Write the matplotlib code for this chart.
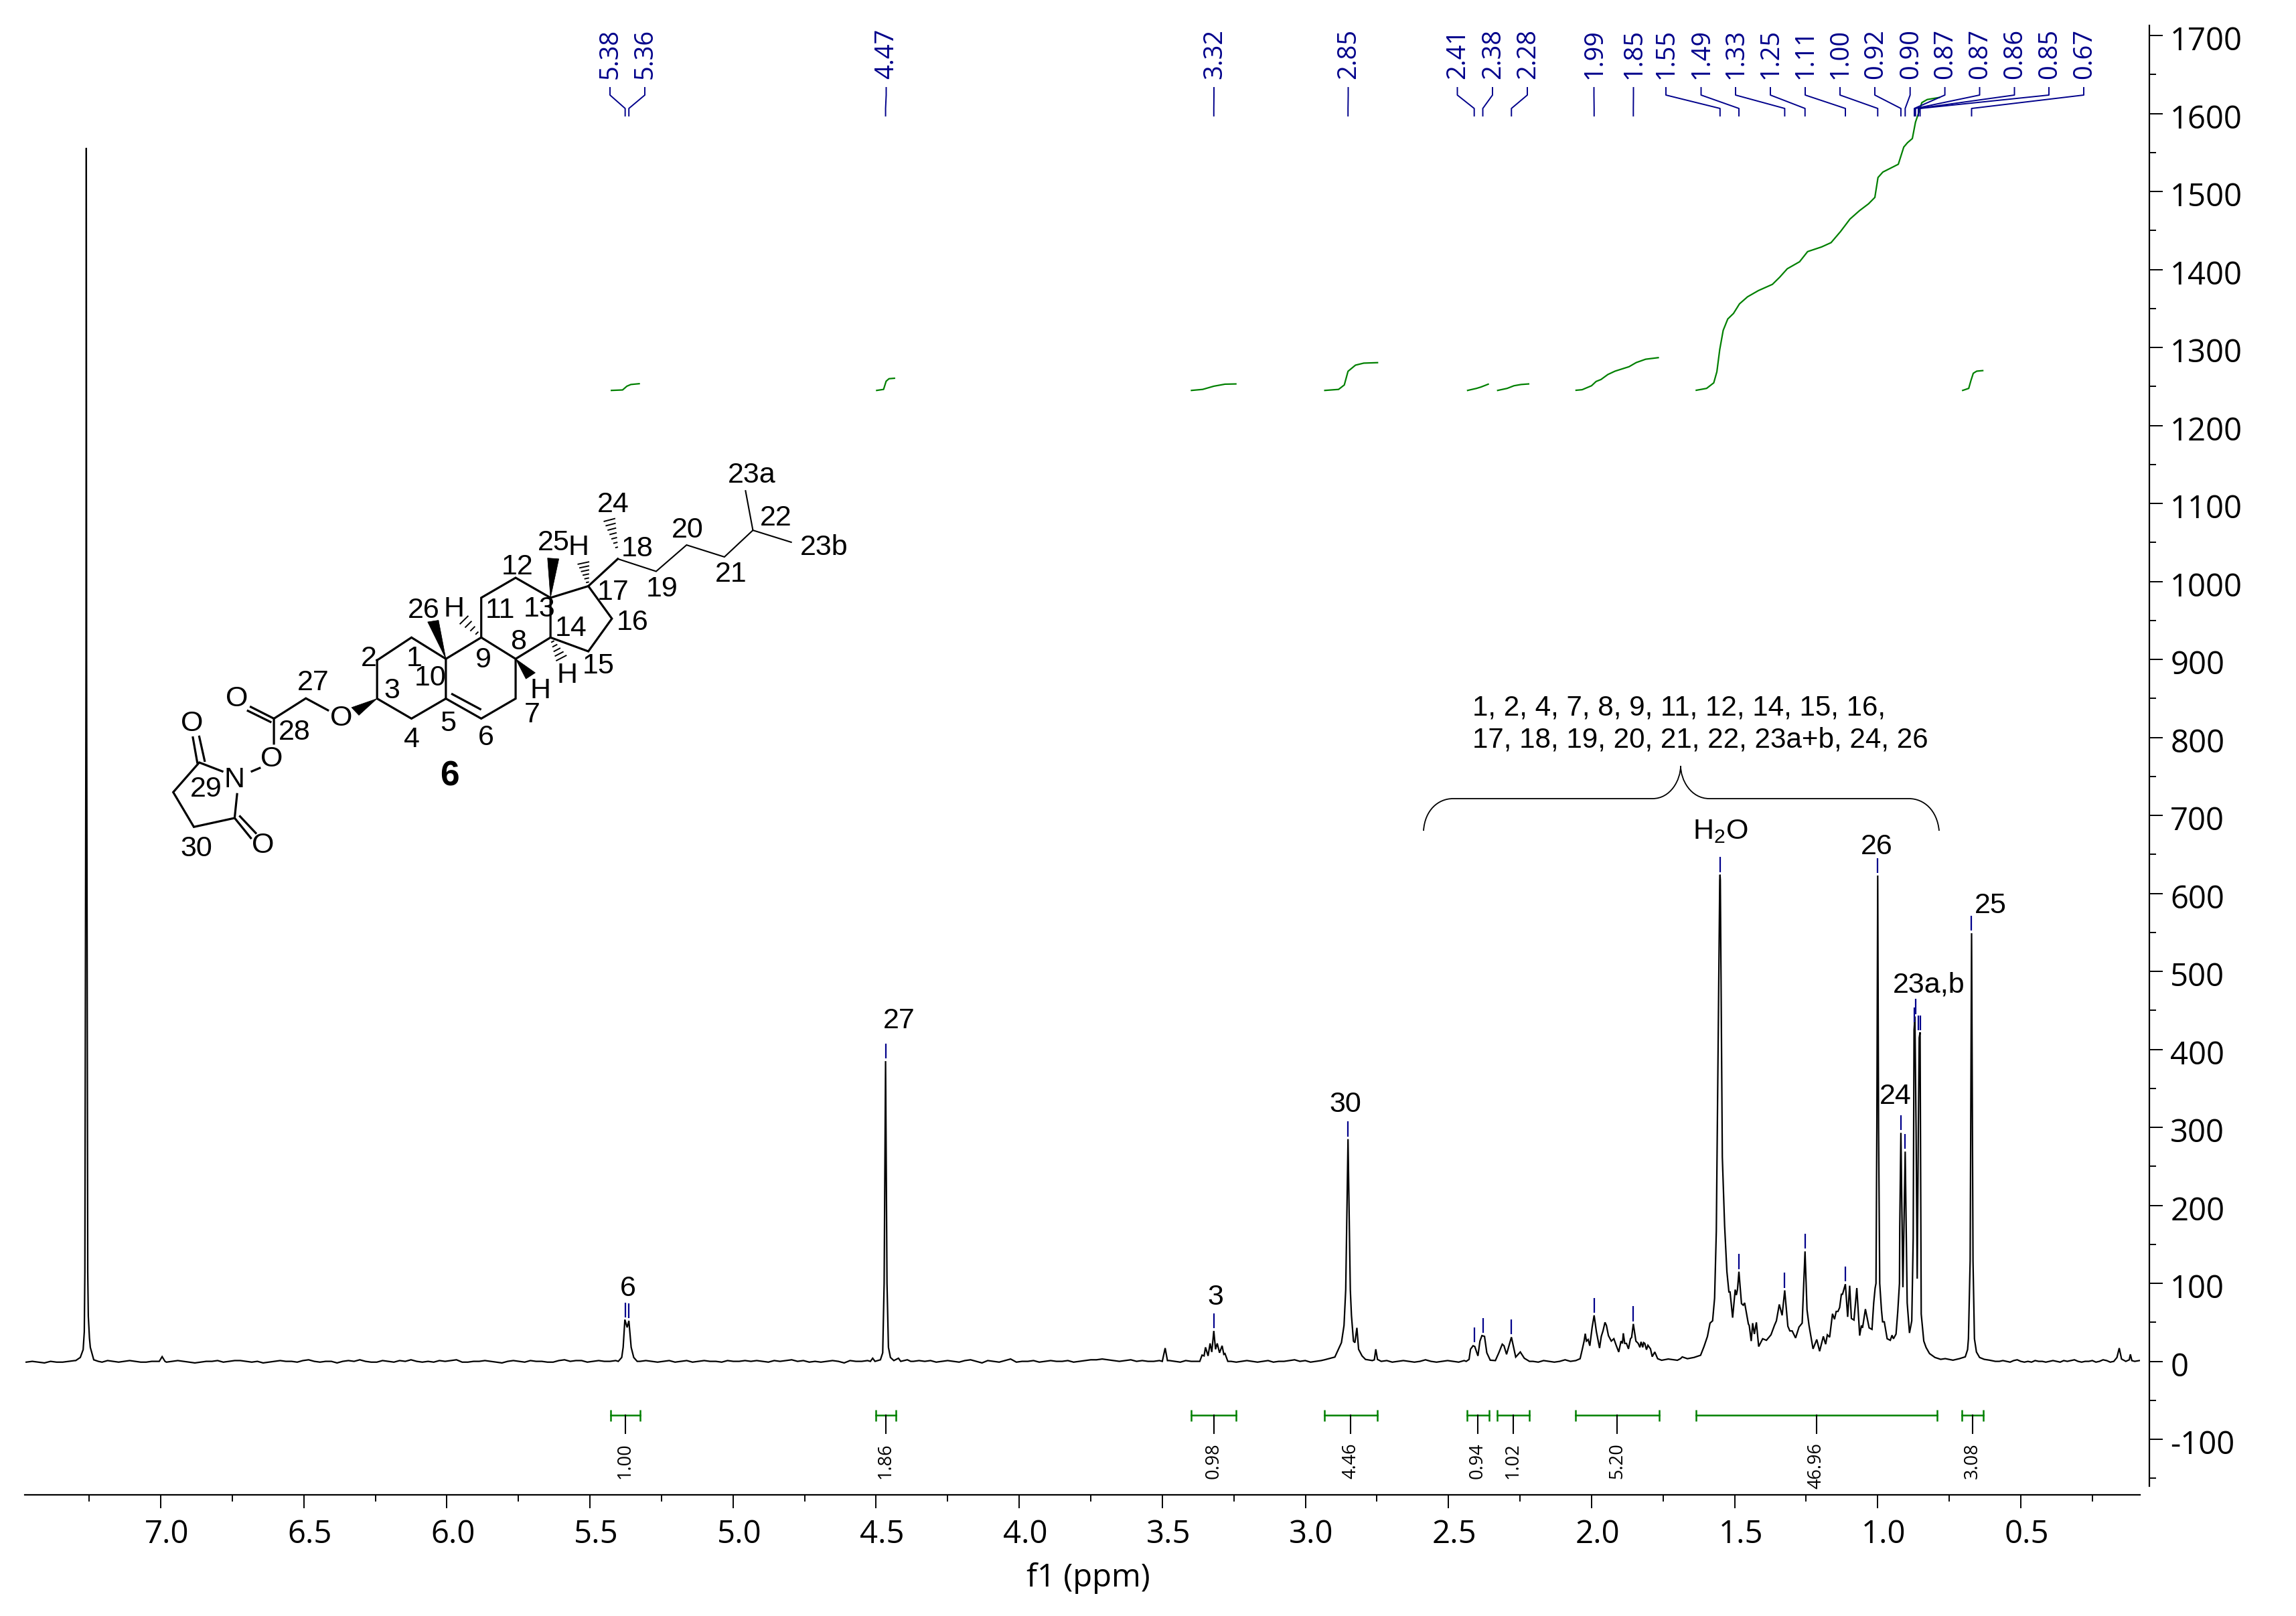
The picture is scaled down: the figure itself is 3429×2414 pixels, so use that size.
#!/usr/bin/env python
import numpy as np
import matplotlib
matplotlib.use("Agg")
import matplotlib.pyplot as plt
from matplotlib.patches import PathPatch, Polygon
from matplotlib.path import Path
from matplotlib.ticker import MultipleLocator, FormatStrFormatter
from matplotlib.transforms import ScaledTranslation

plt.rcParams['font.family'] = ['Open Sans', 'DejaVu Sans']
plt.rcParams['axes.unicode_minus'] = False
plt.rcParams['mathtext.default'] = 'regular'

W, H = 3430, 2414
NAVY = '#00008b'
GREEN = '#008000'
ARIAL = 'Liberation Sans'

# flat stretches of the spectrum: start ppm, stop ppm, intensities
base_1 = (7.47, 7.30, [-1, 0, -1, -2, 0, -1, -1, 0, 1])
base_2 = (7.205, 7.012, [-1, 1, 0, -1, 0, 1, 0, -1, -1, 0, 0])
base_3 = (6.98, 5.41, [-1, 0, 1, 0, -1, -2, -1, 0, 0, 1, -1, 0, 1, 1, 0, -1, 0, -2, -1, 0,
                       1, 0, 0, -1, 1, 2, 0, -1, 0, 0, -2, 0, 1, 0, 2, 0, -1, -1, 1, 0,
                       -1, 1, 0, 2, 0, -1, 0, -1, 1, 0, 1, 2, -1, -1, 0, 0, 1, 0, -1, -2,
                       0, 1, 0, -1, 1, 0, 0, -1, -1, 1, 2, 0, 1, 1, -1, 0, 1, 0, 0, 1])
base_4 = (5.325, 4.53, [0, 1, 0, -1, 0, 1, -1, 0, 1, -1, 0, 1, 0, 0, -1, 1, 0, 0, 1, 0,
                        1, 0, -1, 1, 0, 1, 2, 0, 1, -1, 0, -1, 0, 1, 0, -2, 1, 0, 0, 1])
base_5 = (4.37, 3.51, [0, 1, 0, 1, -1, 0, 1, 0, -1, 1, 2, 0, -2, 1, 0, -1, 1, 3, -1, 0,
                       0, 1, -1, 0, 1, 0, 0, 1, -1, 0, 1, 2, 2, 3, 2, 1, 0, 1, 2, 0,
                       1, 0, 0, 1])
base_6 = (3.475, 3.38, [1, 0, -1, 1, 0, 0])
base_7 = (3.26, 2.945, [0, -1, 0, 1, 0, -1, 0, 1, -1, 0, 0, 1, 2, 0, 1, -1, 0, 1])
base_8 = (2.735, 2.445, [0, 1, -1, 0, 1, 0, -1, 0, 2, 0, -1, 0, 1, 0, -1, 1])
base_9 = (2.205, 2.055, [0, -1, 1, 0, -1, 0, 2, 0, 1])
base_10 = (0.575, 0.175, [0, 1, 0, -1, 1, 2, 0, -1, 0, -1, 1, 0, 0, -1, 0, 1, 0, -1, 1, 0,
                          1, 2, 0, -1, 0, 0, 1, -1, 0, 2, 1, -1, 0])

# peak regions
cdcl3_ppm = [7.297, 7.281, 7.271, 7.267, 7.265, 7.261, 7.260, 7.259, 7.255, 7.253, 7.249,
             7.246, 7.234, 7.218]
cdcl3_int = [1, 5, 15, 38, 115, 900, 1556, 900, 115, 58, 30, 18, 2, 0]
small_ppm = [7.005, 6.995, 6.985]
small_int = [0, 6, 0]
h6_ppm = [5.401, 5.389, 5.384, 5.378, 5.370, 5.364, 5.356, 5.347, 5.335]
h6_int = [0, 5, 18, 53.5, 43.5, 52, 18, 5, 0]
h27_ppm = [4.520, 4.512, 4.504, 4.485, 4.477, 4.472, 4.467, 4.462, 4.457, 4.450, 4.438,
           4.422, 4.414, 4.391, 4.379]
h27_int = [0, 4, 0, 2, 11, 100, 385, 100, 18, 5, 1, 4, 0, 2, 0]
imp_ppm = [3.500, 3.490, 3.482]
imp_int = [0, 17, 1]
h3_ppm = [3.369, 3.361, 3.354, 3.349, 3.340, 3.333, 3.327, 3.320, 3.314, 3.308, 3.300,
          3.291, 3.285, 3.281, 3.271]
h3_int = [0, 8, 7, 18, 7, 23, 12, 39, 15.5, 23, 11, 20, 9, 10, 0]
h30_ppm = [2.933, 2.897, 2.874, 2.865, 2.859, 2.851, 2.843, 2.839, 2.832, 2.827, 2.820,
           2.814, 2.802, 2.790, 2.766, 2.759, 2.754, 2.748]
h30_int = [2, 5.5, 24, 46, 92, 285, 92, 59, 26, 24, 43, 15.5, 7, 2.5, 1, 2, 15.5, 2.5]
m24_ppm = [2.438, 2.428, 2.423, 2.414, 2.408, 2.397, 2.390, 2.383, 2.374, 2.366, 2.354,
           2.336, 2.324, 2.312, 2.306, 2.297, 2.280, 2.265, 2.249, 2.235, 2.217]
m24_int = [0, 2.5, 15.5, 20, 19, 7, 26, 33, 32, 11, 1.5, 1, 11, 22, 20, 9, 31, 5.5, 12, 4, 0]
m19_ppm = [2.040, 2.032, 2.026, 2.022, 2.018, 2.012, 2.006, 1.998, 1.991, 1.983, 1.972,
           1.966, 1.960, 1.953, 1.948, 1.941, 1.931, 1.922, 1.914, 1.905, 1.897, 1.892,
           1.889, 1.884, 1.878, 1.871, 1.864, 1.860, 1.854, 1.845, 1.837, 1.831, 1.827,
           1.821, 1.818, 1.814, 1.808, 1.803, 1.794, 1.788, 1.779, 1.769, 1.755, 1.732,
           1.700]
m19_int = [3.4, 16, 26, 35.5, 26, 28, 20, 43.5, 59, 38, 17, 32, 39, 50, 46, 33, 26, 29,
           20.6, 12, 26, 23, 36, 23, 23, 16, 29, 30.6, 48, 26, 23, 18, 25, 18, 24, 23,
           15, 20.6, 16, 6, 12, 3.4, 1.4, 3, 1.4]
m15_ppm = [1.689, 1.683, 1.665, 1.642, 1.619, 1.607, 1.595, 1.586, 1.577, 1.570, 1.564,
           1.552, 1.551, 1.550, 1.543, 1.535, 1.527, 1.520, 1.516, 1.507, 1.498, 1.494,
           1.490, 1.485, 1.476, 1.470, 1.465, 1.452, 1.449, 1.442, 1.437, 1.431, 1.424,
           1.416, 1.402, 1.389, 1.373, 1.361, 1.354, 1.344, 1.334, 1.325, 1.314, 1.307,
           1.299, 1.287, 1.275, 1.264, 1.254, 1.247, 1.240, 1.226, 1.213, 1.203, 1.190,
           1.182, 1.176, 1.168, 1.158, 1.151, 1.145, 1.139, 1.133, 1.127, 1.123, 1.113,
           1.105, 1.098, 1.092, 1.083, 1.073, 1.063, 1.057, 1.053, 1.043, 1.030, 1.020,
           1.014, 1.009]
m15_int = [3.5, 5.7, 3.4, 5, 7.8, 19, 32, 49, 52, 81, 167, 617, 624, 617, 262, 174, 115,
           89, 89, 56, 92, 85, 92, 115, 74, 72, 75, 48, 46, 26, 49, 35, 50, 19, 29, 27,
           34, 46, 52, 73, 59, 91, 45, 39, 39, 30, 44, 49, 141, 66, 46, 16, 28, 13, 32,
           22, 34, 31, 61, 54, 64, 64, 69, 86, 86, 99, 57, 97, 55, 53, 94, 33, 46, 43,
           67, 43, 41, 75, 94]
m09_ppm = [1.006, 1.003, 1.000, 0.997, 0.993, 0.987, 0.983, 0.977, 0.967, 0.956, 0.950,
           0.945, 0.936, 0.930, 0.924, 0.923, 0.919, 0.912, 0.909, 0.904, 0.900, 0.897,
           0.889, 0.881, 0.876, 0.873, 0.870, 0.866, 0.862, 0.858, 0.855, 0.852, 0.849,
           0.848, 0.839, 0.831, 0.819, 0.800, 0.780, 0.764, 0.737, 0.714, 0.694, 0.686,
           0.683, 0.677, 0.672, 0.667, 0.662, 0.655, 0.644, 0.628, 0.609, 0.589]
m09_int = [100, 300, 623, 300, 100, 66.4, 50.7, 50.7, 29, 27, 33.5, 29, 35, 63.6, 100,
           172, 293, 95, 158, 269, 158, 75, 36.4, 52, 158, 425, 442, 300, 106, 300, 415,
           422, 150, 60.7, 26, 17.8, 10, 5, 2.6, 3.5, 1.5, 3.5, 5.8, 15, 29, 129, 549,
           129, 29, 12, 5, 2.6, 1.5, 0]
tms_ppm = [0.164, 0.156, 0.148, 0.133, 0.121, 0.117, 0.112, 0.102, 0.086]
tms_int = [5, 17, 3, 0, 2, 9, 1, 0, 1]

# picked peaks: label, position, height of the peak under the tick
peak_labels = ['5.38', '5.36', '4.47', '3.32', '2.85', '2.41', '2.38', '2.28', '1.99', '1.85',
               '1.55', '1.49', '1.33', '1.25', '1.11', '1.00', '0.92', '0.90', '0.87', '0.87',
               '0.86', '0.85', '0.67']
peak_ppm = [5.377, 5.364, 4.467, 3.320, 2.851, 2.410, 2.380, 2.280, 1.991, 1.854,
            1.551, 1.485, 1.325, 1.254, 1.113, 1.000, 0.919, 0.904, 0.872, 0.868,
            0.858, 0.852, 0.672]
peak_top = [53, 52, 385, 39, 285, 21, 33, 31, 59, 48,
            624, 115, 91, 141, 99, 623, 293, 269, 431, 442,
            421, 421, 549]

# integral curves
int_a_ppm = [5.425, 5.386, 5.371, 5.357, 5.328]
int_a_val = [1245, 1245.6, 1250.4, 1252.6, 1253.6]
int_b_ppm = [4.498, 4.474, 4.465, 4.455, 4.436]
int_b_val = [1245, 1246.3, 1256.8, 1260, 1260.6]
int_c_ppm = [3.398, 3.359, 3.320, 3.281, 3.243]
int_c_val = [1245, 1246.3, 1250.4, 1253, 1253.3]
int_d_ppm = [2.932, 2.884, 2.864, 2.851, 2.825, 2.796, 2.748]
int_d_val = [1245, 1246.3, 1252, 1269.5, 1277.4, 1280, 1280.6]
int_e_ppm = [2.433, 2.402, 2.386, 2.361]
int_e_val = [1245, 1247.6, 1249.4, 1253]
int_f_ppm = [2.328, 2.295, 2.271, 2.246, 2.220]
int_f_val = [1245, 1247.6, 1251, 1252.6, 1253.3]
int_g_ppm = [2.054, 2.033, 2.000, 1.984, 1.967, 1.943, 1.918, 1.869, 1.844, 1.811, 1.767]
int_g_val = [1245.2, 1245.9, 1251, 1256.5, 1259, 1265.4, 1269.7, 1275.4, 1280.7, 1285, 1287]
int_h_ppm = [1.634, 1.598, 1.573, 1.562, 1.552, 1.540, 1.524, 1.504, 1.483, 1.455, 1.417,
             1.368, 1.343, 1.316, 1.273, 1.245, 1.196, 1.163, 1.130, 1.097, 1.064, 1.032,
             1.010, 0.999, 0.982, 0.928, 0.909, 0.896, 0.879, 0.868, 0.856, 0.846, 0.827,
             0.785]
int_h_val = [1245.2, 1247.6, 1254.7, 1269, 1297.5, 1322, 1336.6, 1343.7, 1356, 1365, 1373,
             1381, 1390, 1401, 1410, 1423, 1429, 1434.5, 1448.7, 1464.7, 1475.4, 1484.3,
             1492.5, 1518, 1525, 1535, 1557, 1562.6, 1568, 1589, 1602, 1614, 1618, 1620.6]
int_i_ppm = [0.703, 0.682, 0.674, 0.666, 0.654, 0.633]
int_i_val = [1245, 1247.6, 1258, 1267, 1269.7, 1270.4]

# integration bars under the spectrum
bar_labels = ['1.00', '1.86', '0.98', '4.46', '0.94', '1.02', '5.20', '46.96', '3.08']
bar_start = [5.428, 4.501, 3.399, 2.933, 2.435, 2.329, 2.056, 1.634, 0.706]
bar_stop = [5.325, 4.431, 3.242, 2.749, 2.358, 2.218, 1.764, 0.793, 0.631]
bar_mid = [5.376, 4.467, 3.320, 2.842, 2.398, 2.274, 1.911, 1.214, 0.668]

# assignments written over the peaks
assign_text = ['6', '27', '3', '30', 'H$_2$O', '26', '25', '23a,b', '24']
assign_x = [938, 1343, 1815, 2009, 2569, 2803, 2973, 2881, 2831]
assign_y = [1925, 1525, 1938, 1650, 1242, 1265, 1353, 1471, 1638]

# where the picked-peak labels sit along the top of the figure
label_x = [911, 963, 1323.5, 1813, 2013.5, 2176.5, 2229, 2281, 2380.5, 2439.5, 2488, 2540.5,
           2592, 2644, 2696, 2748, 2800, 2852.7, 2904.6, 2956.5, 3008.5, 3060, 3112]


def stretch(seg):
    start, stop, vals = seg
    return list(np.linspace(start, stop, len(vals))), list(vals)


def build_spectrum():
    parts = [stretch(base_1), (cdcl3_ppm, cdcl3_int), stretch(base_2), (small_ppm, small_int),
             stretch(base_3), (h6_ppm, h6_int), stretch(base_4), (h27_ppm, h27_int),
             stretch(base_5), (imp_ppm, imp_int), stretch(base_6), (h3_ppm, h3_int),
             stretch(base_7), (h30_ppm, h30_int), stretch(base_8), (m24_ppm, m24_int),
             stretch(base_9), (m19_ppm, m19_int), (m15_ppm, m15_int), (m09_ppm, m09_int),
             stretch(base_10), (tms_ppm, tms_int)]
    ppm = np.concatenate([p[0] for p in parts])
    val = np.concatenate([p[1] for p in parts])
    return ppm, val


fig = plt.figure(figsize=(W / 100, H / 100), dpi=100)
ax = fig.add_axes([37 / W, 1 - 2220 / H, (3196 - 37) / W, (2220 - 38) / H])
ax.patch.set_alpha(0)

spec_ppm, spec_int = build_spectrum()
ax.plot(spec_ppm, spec_int, color='black', lw=1.6, solid_joinstyle='miter')

for xs, ys in [(int_a_ppm, int_a_val), (int_b_ppm, int_b_val), (int_c_ppm, int_c_val),
               (int_d_ppm, int_d_val), (int_e_ppm, int_e_val), (int_f_ppm, int_f_val),
               (int_g_ppm, int_g_val), (int_h_ppm, int_h_val), (int_i_ppm, int_i_val)]:
    ax.plot(xs, ys, color=GREEN, lw=1.6)

# peak ticks just above each picked peak
tops = np.array(peak_top, dtype=float)
ax.vlines(peak_ppm, tops + 3.5, tops + 22.5, color=NAVY, lw=1.6)

# integration bars
for start, stop, mid, lab in zip(bar_start, bar_stop, bar_mid, bar_labels):
    ax.plot([start, stop], [-68.7, -68.7], color=GREEN, lw=1.8)
    ax.vlines([start, stop], -76.4, -61.8, color=GREEN, lw=1.8)
    ax.plot([mid, mid], [-68.7, -91.8], color='black', lw=1.5)
    ax.text(mid, -104.7, lab, rotation=90, ha='center', va='top', fontsize=19.5)

ax.set_xlim(7.475, 0.0835)
ax.set_ylim(-160, 1713)
ax.xaxis.set_major_locator(MultipleLocator(0.5))
ax.xaxis.set_minor_locator(MultipleLocator(0.25))
ax.xaxis.set_major_formatter(FormatStrFormatter('%.1f'))
ax.yaxis.set_major_locator(MultipleLocator(100))
ax.yaxis.set_minor_locator(MultipleLocator(50))
ax.yaxis.set_major_formatter(FormatStrFormatter('%d'))
ax.yaxis.tick_right()
ax.yaxis.set_ticks_position('right')

for side in ['top', 'left']:
    ax.spines[side].set_visible(False)
ax.spines['bottom'].set_position(('outward', 9.4))
ax.spines['right'].set_position(('outward', 10.1))
ax.spines['bottom'].set_linewidth(1.6)
ax.spines['right'].set_linewidth(1.6)
ax.tick_params(axis='both', which='major', length=14.4, width=1.4, labelsize=34, pad=8)
ax.tick_params(axis='x', which='major', pad=11)
ax.tick_params(axis='both', which='minor', length=7.2, width=1.4)
ax.set_xlabel('f1 (ppm)', fontsize=34, va='center')
ax.xaxis.set_label_coords((1625 - 37) / 3159, -(2357 - 2220) / 2182)

# tick labels in the reference sit a little off their ticks
x_shift = ScaledTranslation(9 / 100, 0, fig.dpi_scale_trans)
y_shift = ScaledTranslation(0, -4 / 100, fig.dpi_scale_trans)
for lab in ax.get_xticklabels():
    lab.set_transform(lab.get_transform() + x_shift)
for lab in ax.get_yticklabels():
    lab.set_transform(lab.get_transform() + y_shift)

# overlay in picture pixels for the molecule, brackets and labels
ov = fig.add_axes([0, 0, 1, 1])
ov.set_xlim(0, W)
ov.set_ylim(H, 0)
ov.axis('off')
ov.patch.set_alpha(0)

for i, lab in enumerate(peak_labels):
    px = ov.transData.inverted().transform(ax.transData.transform((peak_ppm[i], 0)))[0]
    lx = label_x[i]
    ov.plot([lx, lx, px, px], [131, 142, 162, 173], color=NAVY, lw=1.4)
    ov.text(lx + 1, 118, lab, rotation=90, ha='center', va='bottom', color=NAVY, fontsize=27.4)

for txt, x, y in zip(assign_text, assign_x, assign_y):
    ov.text(x, y, txt, ha='center', va='center', fontsize=31, family=ARIAL)

ov.text(2199, 1057, '1, 2, 4, 7, 8, 9, 11, 12, 14, 15, 16,', ha='left', va='center',
        fontsize=30.3, family=ARIAL)
ov.text(2199, 1105, '17, 18, 19, 20, 21, 22, 23a+b, 24, 26', ha='left', va='center',
        fontsize=30.3, family=ARIAL)

brace_pts = [(2126, 1241), (2128, 1210), (2148, 1193), (2170, 1193), (2468, 1193),
             (2495, 1193), (2510, 1165), (2510, 1144), (2510, 1165), (2525, 1193), (2553, 1193),
             (2851, 1193), (2873, 1193), (2893, 1210), (2896, 1241)]
brace_codes = [Path.MOVETO, Path.CURVE4, Path.CURVE4, Path.CURVE4, Path.LINETO,
               Path.CURVE4, Path.CURVE4, Path.CURVE4, Path.CURVE4, Path.CURVE4, Path.CURVE4,
               Path.LINETO, Path.CURVE4, Path.CURVE4, Path.CURVE4]
ov.add_patch(PathPatch(Path(brace_pts, brace_codes), fc='none', ec='black', lw=1.3))


def mx(x):
    return 200 + x / 1.363


def my(y):
    return 700 + y / 2.41


thick_bonds = [
    [(495, 690), (565, 608), (635, 685), (635, 828), (565, 900), (495, 828), (495, 690)],
    [(635, 828), (707, 900), (777, 828), (777, 685), (707, 608), (635, 685)],
    [(707, 608), (707, 465), (777, 393), (848, 465), (848, 608), (777, 685)],
    [(848, 465), (925, 423), (973, 540), (925, 658), (848, 608)],
    [(925, 423), (985, 325)],
    [(648, 812), (705, 866)],
    [(395, 870), (350, 827), (285, 900), (285, 990)],
    [(285, 900), (238, 858)], [(278, 912), (232, 872)],
    [(240, 1090), (256, 1078)],
    [(180, 1090), (133, 1058), (80, 1165), (122, 1290), (205, 1258), (210, 1172)],
    [(120, 968), (129, 1058)], [(133, 965), (144, 1052)],
    [(205, 1258), (238, 1330)], [(216, 1252), (248, 1312)],
]
thin_bonds = [
    [(985, 325), (1063, 370), (1125, 275), (1202, 318), (1260, 222), (1245, 80)],
    [(1260, 222), (1338, 265)],
]
wedges = [
    [(635, 685), (598, 552), (620, 546)],
    [(848, 465), (842, 322), (865, 325)],
    [(777, 685), (798, 757), (817, 735)],
    [(495, 828), (443, 860), (458, 888)],
]
hashes = [
    ((707, 608), (672, 545), 4),
    ((848, 608), (870, 682), 5),
    ((925, 423), (915, 340), 6),
    ((985, 300), (968, 185), 7),
]
mol_labels = [('2', 478, 685), ('1', 570, 685), ('3', 525, 800), ('10', 603, 755),
              ('26', 590, 510), ('H', 652, 505), ('11', 745, 510), ('13', 825, 505),
              ('12', 780, 355), ('25', 855, 268), ('H', 905, 285), ('17', 975, 445),
              ('14', 890, 575), ('8', 782, 625), ('9', 712, 690), ('16', 1015, 555),
              ('15', 945, 712), ('H', 882, 745), ('H', 828, 800), ('7', 810, 888),
              ('5', 640, 918), ('4', 565, 975), ('6', 717, 970), ('27', 365, 772),
              ('O', 210, 828), ('O', 422, 900), ('28', 327, 950), ('O', 118, 918),
              ('O', 280, 1045), ('N', 205, 1120), ('29', 147, 1155), ('O', 262, 1358),
              ('30', 127, 1370), ('24', 975, 130), ('18', 1025, 290), ('20', 1127, 222),
              ('19', 1075, 435), ('21', 1215, 380), ('22', 1307, 178), ('23a', 1258, 25),
              ('23b', 1405, 285)]

for bond in thick_bonds:
    ov.plot([mx(p[0]) for p in bond], [my(p[1]) for p in bond], color='black', lw=2.3,
            solid_joinstyle='miter')
for bond in thin_bonds:
    ov.plot([mx(p[0]) for p in bond], [my(p[1]) for p in bond], color='black', lw=1.5,
            solid_joinstyle='miter')
for wedge in wedges:
    ov.add_patch(Polygon([(mx(p[0]), my(p[1])) for p in wedge], closed=True, fc='black', ec='black', lw=0.5))
for start, stop, n in hashes:
    x0, y0, x1, y1 = mx(start[0]), my(start[1]), mx(stop[0]), my(stop[1])
    dx, dy = x1 - x0, y1 - y0
    norm = np.hypot(dx, dy)
    for k in range(1, n + 1):
        t = k / n
        half = 8 * t
        cx, cy = x0 + dx * t, y0 + dy * t
        ov.plot([cx - dy / norm * half, cx + dy / norm * half],
                [cy + dx / norm * half, cy - dx / norm * half], color='black', lw=1.4)
for txt, x, y in mol_labels:
    ov.text(mx(x), my(y), txt, ha='center', va='center', fontsize=31, family=ARIAL)
ov.text(mx(643), my(1108), '6', ha='center', va='center', fontsize=37, family=ARIAL, weight='bold')

fig.savefig('out.png', dpi=100)
